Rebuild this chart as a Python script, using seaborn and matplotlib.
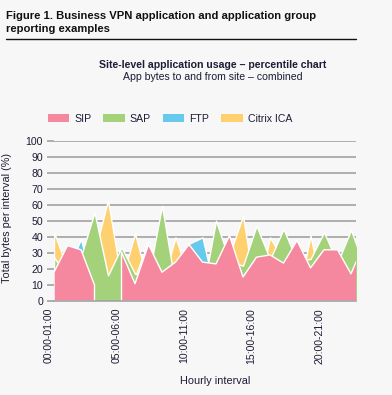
import numpy as np
import seaborn as sns
from matplotlib import pyplot as plt
from matplotlib.patches import Patch
from matplotlib.lines import Line2D

# hourly intervals (the last one runs off the right edge of the chart)
hours = ['00:00-01:00', '01:00-02:00', '02:00-03:00', '03:00-04:00', '04:00-05:00',
         '05:00-06:00', '06:00-07:00', '07:00-08:00', '08:00-09:00', '09:00-10:00',
         '10:00-11:00', '11:00-12:00', '12:00-13:00', '13:00-14:00', '14:00-15:00',
         '15:00-16:00', '16:00-17:00', '17:00-18:00', '18:00-19:00', '19:00-20:00',
         '20:00-21:00', '21:00-22:00', '22:00-23:00', '23:00-00:00']

sip = [18, 34.6, 32, 10, np.nan, 30.5, 10.8, 35.3, 18, 24.3, 35.3, 24.3,
       23.2, 40.9, 15, 27.4, 28.8, 23.7, 37.8, 20.7, 32, 32, 17, 36.7]
sap = [27.4, 15, 28, 55.4, 16, 33.6, 17, 15, 59.5, 9, 20, 5,
       50.2, 25, 22, 47, 26, 45, 25, 26.3, 43, 24, 44.4, 21]
ftp = [10, 19, 38.8, 3, 5, 5, 15, 37.8, 9, 20, 35.8, 39.8,
       3, 5, 5, 3, 3, 3, 5, 5, 5, 25, 5, 3]
citrix = [43, 20, 20, 30, 63, 12.5, 42.3, 10, 10, 39.8, 15, 10,
          10, 29, 53.3, 0, 39.8, 25, 0, 40.9, 0, 0, 0, 0]

names = ['SIP', 'SAP', 'FTP', 'Citrix ICA']
colors = ['#f5889f', '#a4d27b', '#67c9ec', '#fed06f']
ytick_vals = [0, 10, 20, 30, 40, 50, 60, 70, 80, 90, 100]
label_every = 5

bg = '#f7f7f7'
txt = '#1c1c36'
grid_c = '#9a9a9a'

sns.set_theme(style='white', rc={'figure.facecolor': bg, 'axes.facecolor': bg,
                                 'savefig.facecolor': bg})
plt.rcParams['font.family'] = ['Liberation Sans', 'DejaVu Sans']

W, H = 392, 395
f = plt.figure(figsize=(W / 100, H / 100), dpi=100)
ax = f.add_axes([54 / W, (H - 301) / H, (356 - 54) / W, 160 / H])

x = np.arange(len(hours))
series = [sip, sap, ftp, citrix]
# back to front: Citrix ICA, FTP, SAP, SIP
for i in [3, 2, 1, 0]:
    y = np.array(series[i], dtype=float)
    ax.fill_between(x, 0, y, where=~np.isnan(y), facecolor=colors[i],
                    edgecolor='white', linewidth=1.0, zorder=2 + (3 - i))

ax.set_xlim(0, 22.37)
ax.set_ylim(0, 100)
ax.set_yticks(ytick_vals)
ax.set_yticklabels([str(v) for v in ytick_vals], fontsize=7.6, color=txt)
ax.yaxis.grid(True, color=grid_c, linewidth=1.1)
ax.set_axisbelow(True)
ax.tick_params(axis='y', direction='out', length=5, width=1.1, color=grid_c,
               pad=3, left=True)
ax.set_xticks(x[::label_every][:5])
ax.set_xticklabels(hours[::label_every][:5], rotation=90, ha='right',
                   va='top', fontsize=7.6, color=txt)
ax.tick_params(axis='x', length=0, pad=5)
for s in ['left', 'top', 'right']:
    ax.spines[s].set_visible(False)
ax.spines['bottom'].set_color(grid_c)
ax.spines['bottom'].set_linewidth(1.1)
ax.spines['bottom'].set_zorder(10)

ax.set_ylabel('Total bytes per interval (%)', fontsize=7.8, color=txt)
ax.yaxis.set_label_coords((12 - 54) / (356 - 54), (301 - 218) / 160)
f.text(215 / W, 1 - 381 / H, 'Hourly interval', fontsize=7.8, color=txt,
       ha='center', va='center')

f.text(6 / W, 1 - 22.5 / H,
       'Figure 1. Business VPN application and application group\nreporting examples',
       fontsize=8.1, fontweight='bold', color='#111111', ha='left', va='center',
       linespacing=1.45)
f.add_artist(Line2D([6 / W, 356 / W], [1 - 39.3 / H, 1 - 39.3 / H],
                    color='#111111', linewidth=1.0))
f.text(212.7 / W, 1 - 65.5 / H, 'Site-level application usage \u2013 percentile chart',
       fontsize=7.6, fontweight='bold', color=txt, ha='center', va='center')
f.text(212.7 / W, 1 - 77 / H, 'App bytes to and from site \u2013 combined',
       fontsize=7.6, color=txt, ha='center', va='center')

handles = [Patch(facecolor=c, edgecolor='none', label=n) for c, n in zip(colors, names)]
f.legend(handles=handles, loc='center', bbox_to_anchor=(170 / W, 1 - 118.5 / H),
         ncol=4, frameon=False, fontsize=7.6, handlelength=2.0, handleheight=0.85,
         handletextpad=0.5, columnspacing=1.15, labelcolor=txt)

f.savefig('out.png', dpi=100)
